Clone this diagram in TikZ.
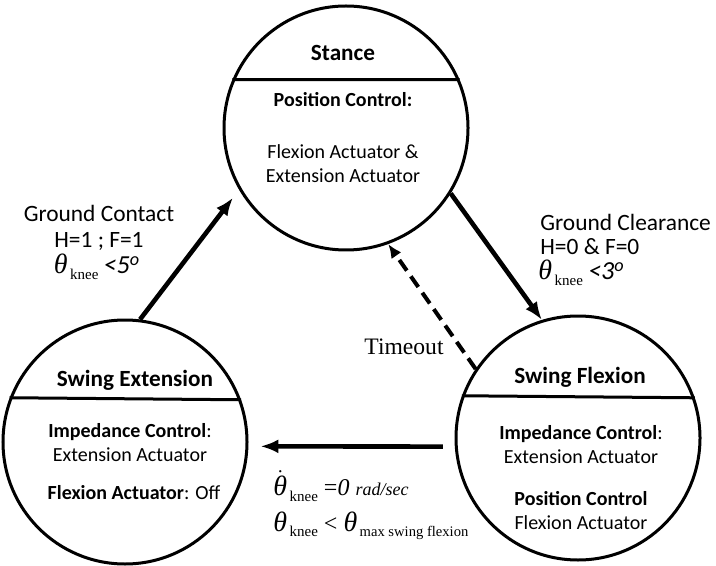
\documentclass[tikz,border=0pt]{standalone}
\usepackage{fontspec}
\setmainfont{Carlito}
\newfontfamily\tnr{Liberation Serif}
\usetikzlibrary{arrows.meta}

\newcommand{\kneesub}{\raisebox{-0.5ex}{\tnr\fontsize{7.5}{8}\selectfont\,knee}}
\newcommand{\thetaital}{{\tnr\itshape\fontsize{14}{14}\selectfont θ}}

\begin{document}
\begin{tikzpicture}[x=0.5pt, y=-0.5pt,
	state/.style={draw, circle, line width=1.5pt, minimum size=122pt, inner sep=0pt},
	head/.style={font=\fontsize{11.6}{13}\selectfont\bfseries},
	body/.style={font=\fontsize{10}{12}\selectfont, align=center},
	lbl/.style={font=\fontsize{11.7}{13}\selectfont, inner sep=1pt},
	cond/.style={font=\tnr\fontsize{12}{13}\selectfont, anchor=west, inner sep=0pt},
	trans/.style={line width=2.3pt, -{Latex[length=9pt,width=7pt]}}]
				\useasboundingbox (0,0) rectangle (716,566);
				\path (346, 128) node[state] (s1){}
				(125, 442) node[state] (s2){}
				(578, 438) node[state] (s3){};
				
				\draw[line width=1.5pt] (s1.157) -- (s1.23)
				(s2.159.4) -- (s2.20.6)
				(s3.160.4) -- (s3.19.6);
				
				% state texts
				\path (343, 53) node[head] (h1){Stance}
				(343, 100) node[body, font=\fontsize{10}{12}\selectfont\bfseries] (b1){Position Control:}
				(343, 164) node[body] (b2){Flexion Actuator \&\\Extension Actuator}
				(135, 380) node[head] (h2){Swing Extension}
				(130, 443) node[body] (b3){\textbf{Impedance Control}:\\Extension Actuator}
				(134, 493) node[body] (b4){\textbf{Flexion Actuator}: Off}
				(580, 377) node[head] (h3){Swing Flexion}
				(581, 445) node[body] (b5){\textbf{Impedance Control}:\\Extension Actuator}
				(581, 511) node[body] (b6){\textbf{Position Control}\\Flexion Actuator};
				
				% transition labels
				\path (99, 213) node[lbl] (g1){Ground Contact}
				(99, 241) node[lbl] (g2){H=1 ; F=1}
				(97, 267) node[lbl] (g3){\thetaital\kneesub\ \textit{\fontsize{13}{14}\selectfont<5\textsuperscript{o}}}
				(538, 222) node[lbl, anchor=west] (c1){Ground Clearance}
				(538, 247) node[lbl, anchor=west] (c2){H=0 \& F=0}
				(536, 273) node[lbl, anchor=west] (c3){\thetaital\kneesub\ \textit{\fontsize{13}{14}\selectfont<3\textsuperscript{o}}}
				(404, 347) node[font=\tnr\fontsize{11.8}{13}\selectfont] (t1){Timeout}
				(273, 486) node[cond] (d1){$\dot{\mbox{\thetaital}}$\kneesub\ =\textit{0} {\itshape\fontsize{9}{10}\selectfont rad/sec}}
				(273, 526) node[cond] (d2){\thetaital\kneesub\ < \thetaital\raisebox{-0.5ex}{\fontsize{7.3}{8}\selectfont\,max swing flexion}};
				
				\draw[trans, shorten >=5pt] (s2.83) -- (s1.210);
				\draw[trans] (s1.-32) -- (s3.107);
				\draw[trans, -{Latex[length=7pt,width=6pt]}, dash pattern=on 6.5pt off 3.5pt, line width=2pt] (s3.146) -- (s1.-70);
				\draw[trans, shorten <=6pt, shorten >=6pt] (s3.184) -- (s2.-2);
			\end{tikzpicture}
\end{document}
